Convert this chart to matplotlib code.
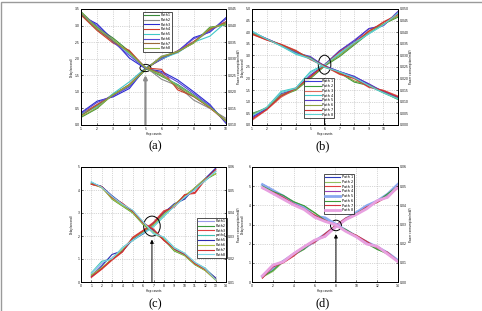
import matplotlib
matplotlib.use("Agg")
import matplotlib.pyplot as plt
from matplotlib.patches import Ellipse, Rectangle

# ---------------- data ----------------
# (a)
xa = [1, 2, 3, 4, 5, 6, 7, 8, 9, 10]
labels_a = ["Path1", "Path2", "Path3", "Path4", "Path5", "Path6", "Path7", "Path8"]
colors_a = ["#3a8a3a", "#8a8a8a", "#2a2ad0", "#d03a2a", "#40c8c8", "#5a4ad8", "#9a6a3a", "#8ab040"]
delay_a = [
    [0.23, 0.50, 0.93, 1.18, 1.66, 2.04, 2.21, 2.48, 2.95, 3.02],
    [0.30, 0.58, 0.90, 1.20, 1.68, 2.08, 2.20, 2.50, 2.85, 3.10],
    [0.37, 0.72, 0.85, 1.10, 1.71, 1.98, 2.22, 2.64, 2.80, 3.24],
    [0.32, 0.62, 0.92, 1.22, 1.70, 2.00, 2.24, 2.52, 2.88, 3.12],
    [0.33, 0.55, 0.95, 1.30, 1.72, 2.00, 2.18, 2.50, 2.68, 3.10],
    [0.35, 0.68, 0.88, 1.15, 1.70, 2.02, 2.23, 2.60, 2.82, 3.20],
    [0.28, 0.60, 0.90, 1.22, 1.69, 2.05, 2.20, 2.49, 2.90, 3.08],
    [0.25, 0.52, 0.92, 1.20, 1.67, 2.06, 2.22, 2.47, 2.93, 3.05],
]
power_a = [
    [0.0442, 0.0395, 0.0362, 0.0322, 0.0272, 0.0247, 0.0222, 0.0190, 0.0155, 0.0112],
    [0.0435, 0.0390, 0.0352, 0.0318, 0.0275, 0.0238, 0.0218, 0.0175, 0.0150, 0.0120],
    [0.0430, 0.0405, 0.0356, 0.0302, 0.0270, 0.0262, 0.0236, 0.0200, 0.0162, 0.0105],
    [0.0432, 0.0385, 0.0347, 0.0325, 0.0272, 0.0268, 0.0206, 0.0186, 0.0152, 0.0110],
    [0.0438, 0.0392, 0.0355, 0.0315, 0.0274, 0.0250, 0.0220, 0.0188, 0.0156, 0.0112],
    [0.0436, 0.0400, 0.0350, 0.0310, 0.0271, 0.0258, 0.0230, 0.0195, 0.0158, 0.0108],
    [0.0434, 0.0388, 0.0352, 0.0320, 0.0273, 0.0255, 0.0212, 0.0185, 0.0153, 0.0114],
    [0.0440, 0.0393, 0.0358, 0.0318, 0.0272, 0.0250, 0.0218, 0.0188, 0.0154, 0.0111],
]

# (b)
xb = [1, 2, 3, 4, 5, 6, 7, 8, 9, 10, 11]
labels_b = ["Path 1", "Path 2", "Path 3", "Path 4", "Path 5", "Path 6", "Path 7", "Path 8"]
colors_b = ["#3a3ad8", "#3a9a3a", "#e06a5a", "#40c8c8", "#5a3ac8", "#8aa040", "#d03030", "#60d0d0"]
delay_b = [
    [0.35, 0.70, 1.30, 1.55, 2.10, 2.60, 3.20, 3.60, 4.15, 4.30, 4.80],
    [0.50, 0.72, 1.25, 1.50, 2.00, 2.55, 2.95, 3.45, 3.95, 4.35, 4.65],
    [0.20, 0.65, 1.20, 1.55, 2.05, 2.60, 3.10, 3.50, 4.00, 4.45, 4.75],
    [0.45, 0.76, 1.45, 1.60, 2.30, 2.62, 3.05, 3.50, 3.95, 4.30, 4.85],
    [0.30, 0.70, 1.35, 1.55, 2.15, 2.62, 3.20, 3.65, 4.15, 4.28, 4.90],
    [0.45, 0.74, 1.30, 1.52, 2.05, 2.58, 3.00, 3.48, 4.05, 4.35, 4.70],
    [0.25, 0.66, 1.25, 1.58, 2.08, 2.60, 3.15, 3.55, 4.05, 4.42, 4.78],
    [0.40, 0.75, 1.40, 1.58, 2.25, 2.60, 3.10, 3.55, 3.92, 4.32, 4.82],
]
power_b = [
    [0.0400, 0.0372, 0.0345, 0.0315, 0.0290, 0.0255, 0.0230, 0.0210, 0.0175, 0.0145, 0.0120],
    [0.0395, 0.0370, 0.0342, 0.0310, 0.0292, 0.0250, 0.0225, 0.0185, 0.0170, 0.0140, 0.0110],
    [0.0390, 0.0368, 0.0348, 0.0322, 0.0282, 0.0252, 0.0218, 0.0200, 0.0162, 0.0150, 0.0125],
    [0.0405, 0.0370, 0.0340, 0.0305, 0.0285, 0.0248, 0.0228, 0.0205, 0.0168, 0.0138, 0.0112],
    [0.0398, 0.0372, 0.0344, 0.0312, 0.0295, 0.0252, 0.0230, 0.0208, 0.0178, 0.0142, 0.0118],
    [0.0396, 0.0370, 0.0345, 0.0318, 0.0288, 0.0250, 0.0226, 0.0190, 0.0172, 0.0140, 0.0114],
    [0.0392, 0.0366, 0.0347, 0.0320, 0.0284, 0.0254, 0.0220, 0.0202, 0.0165, 0.0148, 0.0122],
    [0.0403, 0.0371, 0.0341, 0.0308, 0.0286, 0.0249, 0.0229, 0.0204, 0.0170, 0.0139, 0.0113],
]

# (c)
xc = [1, 2, 3, 4, 5, 6, 7, 8, 9, 10, 11, 12, 13]
labels_c = ["Path1", "Path2", "Path3", "path4", "Path5", "Path6", "Path7", "Path8"]
colors_c = ["#9a9ae8", "#3a9a3a", "#e04040", "#40c0b0", "#2a2ab0", "#a8c040", "#d03030", "#80d8e8"]
delay_c = [
    [0.35, 0.80, 1.05, 1.45, 1.90, 2.20, 2.50, 2.95, 3.30, 3.70, 4.00, 4.50, 4.85],
    [0.30, 0.60, 1.00, 1.35, 1.85, 2.15, 2.45, 2.90, 3.35, 3.75, 4.05, 4.45, 4.70],
    [0.20, 0.55, 0.95, 1.30, 1.95, 2.25, 2.60, 3.10, 3.25, 3.80, 3.85, 4.45, 4.90],
    [0.40, 0.90, 1.00, 1.50, 1.80, 2.10, 2.40, 2.85, 3.30, 3.65, 4.05, 4.40, 4.80],
    [0.25, 0.70, 1.20, 1.35, 1.85, 2.10, 2.55, 3.00, 3.40, 3.60, 4.10, 4.50, 4.95],
    [0.30, 0.62, 1.00, 1.40, 1.90, 2.20, 2.50, 2.95, 3.35, 3.75, 4.10, 4.50, 4.70],
    [0.22, 0.58, 0.98, 1.32, 1.92, 2.22, 2.55, 3.05, 3.28, 3.78, 3.90, 4.45, 4.88],
    [0.38, 0.85, 1.02, 1.48, 1.82, 2.12, 2.42, 2.88, 3.28, 3.68, 4.02, 4.42, 4.82],
]
power_c = [
    [0.0530, 0.0515, 0.0470, 0.0440, 0.0405, 0.0360, 0.0320, 0.0290, 0.0240, 0.0220, 0.0180, 0.0155, 0.0115],
    [0.0525, 0.0515, 0.0460, 0.0430, 0.0400, 0.0350, 0.0315, 0.0285, 0.0235, 0.0215, 0.0175, 0.0150, 0.0110],
    [0.0525, 0.0512, 0.0465, 0.0435, 0.0410, 0.0355, 0.0330, 0.0280, 0.0245, 0.0220, 0.0178, 0.0152, 0.0112],
    [0.0535, 0.0510, 0.0470, 0.0435, 0.0410, 0.0360, 0.0310, 0.0295, 0.0250, 0.0225, 0.0185, 0.0160, 0.0115],
    [0.0530, 0.0515, 0.0475, 0.0440, 0.0405, 0.0355, 0.0325, 0.0285, 0.0242, 0.0218, 0.0182, 0.0155, 0.0118],
    [0.0528, 0.0510, 0.0462, 0.0432, 0.0402, 0.0352, 0.0318, 0.0288, 0.0238, 0.0215, 0.0177, 0.0150, 0.0108],
    [0.0525, 0.0515, 0.0468, 0.0442, 0.0408, 0.0358, 0.0328, 0.0282, 0.0245, 0.0222, 0.0180, 0.0155, 0.0112],
    [0.0535, 0.0512, 0.0472, 0.0438, 0.0412, 0.0362, 0.0312, 0.0295, 0.0248, 0.0225, 0.0185, 0.0158, 0.0110],
]

# (d)
xd = [1, 2, 3, 4, 5, 6, 7, 8, 9, 10, 11, 12, 13, 14]
labels_d = ["Path 1", "Path 2", "Path 3", "Path 4", "Path 5", "Path 6", "Path 7", "Path 8"]
colors_d = ["#2a3ab8", "#90c060", "#e04040", "#9a40b8", "#8aa8f0", "#3a9a3a", "#d03040", "#e8a0e0"]
widths_d = [0.8, 0.8, 0.8, 0.8, 2.0, 0.8, 0.8, 2.0]
delay_d = [
    [0.30, 0.70, 1.10, 1.45, 1.75, 2.10, 2.45, 2.90, 3.30, 3.60, 3.95, 4.20, 4.55, 5.05],
    [0.25, 0.55, 1.05, 1.40, 1.70, 2.15, 2.40, 2.88, 3.28, 3.55, 3.85, 4.20, 4.50, 4.95],
    [0.20, 0.80, 1.00, 1.35, 1.80, 2.05, 2.50, 2.92, 3.32, 3.55, 3.90, 4.15, 4.45, 4.90],
    [0.35, 0.90, 1.05, 1.50, 1.85, 2.20, 2.35, 2.85, 3.25, 3.50, 3.85, 4.25, 4.40, 5.00],
    [0.30, 0.75, 1.08, 1.45, 1.78, 2.12, 2.48, 2.90, 3.30, 3.62, 3.98, 4.22, 4.58, 5.10],
    [0.28, 0.60, 1.10, 1.42, 1.72, 2.18, 2.42, 2.88, 3.30, 3.58, 3.88, 4.18, 4.60, 5.00],
    [0.22, 0.78, 1.02, 1.38, 1.82, 2.08, 2.52, 2.94, 3.34, 3.54, 3.92, 4.16, 4.48, 4.92],
    [0.32, 0.88, 1.06, 1.48, 1.84, 2.18, 2.38, 2.86, 3.26, 3.52, 3.82, 4.24, 4.42, 4.98],
]
power_d = [
    [0.0510, 0.0480, 0.0445, 0.0415, 0.0390, 0.0345, 0.0330, 0.0300, 0.0270, 0.0240, 0.0205, 0.0185, 0.0150, 0.0110],
    [0.0505, 0.0475, 0.0450, 0.0420, 0.0395, 0.0360, 0.0325, 0.0298, 0.0272, 0.0238, 0.0205, 0.0172, 0.0145, 0.0108],
    [0.0490, 0.0470, 0.0440, 0.0410, 0.0385, 0.0350, 0.0320, 0.0295, 0.0268, 0.0242, 0.0210, 0.0180, 0.0155, 0.0112],
    [0.0495, 0.0465, 0.0435, 0.0405, 0.0380, 0.0340, 0.0318, 0.0300, 0.0265, 0.0235, 0.0200, 0.0188, 0.0148, 0.0105],
    [0.0508, 0.0478, 0.0448, 0.0412, 0.0388, 0.0342, 0.0335, 0.0302, 0.0270, 0.0238, 0.0208, 0.0182, 0.0152, 0.0112],
    [0.0500, 0.0472, 0.0452, 0.0418, 0.0398, 0.0362, 0.0322, 0.0296, 0.0274, 0.0240, 0.0200, 0.0170, 0.0148, 0.0110],
    [0.0488, 0.0468, 0.0442, 0.0408, 0.0382, 0.0348, 0.0322, 0.0297, 0.0266, 0.0244, 0.0212, 0.0178, 0.0155, 0.0108],
    [0.0492, 0.0462, 0.0432, 0.0402, 0.0378, 0.0338, 0.0316, 0.0299, 0.0264, 0.0236, 0.0198, 0.0186, 0.0146, 0.0106],
]

# ---------------- drawing ----------------
fig = plt.figure(figsize=(4.82, 3.11), dpi=100)
fig.patches.append(Rectangle((0.002, -0.01), 1.2, 1.004, transform=fig.transFigure,
                             fill=False, edgecolor="#9a9a9a", lw=1.0))

TFS = 2.2   # tick labels
LFS = 2.0   # axis labels
GFS = 2.5   # legend
W, H = 482.0, 311.0


def make_panel(rect, x, delay, power, colors, labels, widths, xlim, xticks,
               ylim, yticks, ylim2, yticks2, leg_anchor, ell, arrow_color, arrow_lw):
    ax = fig.add_axes(rect)
    ax2 = ax.twinx()
    for i in range(len(delay)):
        lw = widths[i] if widths else 0.8
        ax.plot(x, delay[i], color=colors[i], lw=lw, label=labels[i])
        ax2.plot(x, power[i], color=colors[i], lw=lw)
    ax.set_xlim(*xlim)
    ax.set_xticks(xticks)
    ax.set_ylim(*ylim)
    ax.set_yticks(yticks)
    ax2.set_ylim(*ylim2)
    ax2.set_yticks(yticks2)
    ax.grid(True, linestyle=":", color="#b0b0b0", lw=0.5)
    for a in (ax, ax2):
        a.tick_params(direction="in", labelsize=TFS, length=1.5, width=0.4, pad=1.2)
        for s in a.spines.values():
            s.set_linewidth(0.7)
            s.set_color("black")
    wpx = rect[2] * W
    ax.set_xlabel("Hop counts", fontsize=LFS, labelpad=1)
    ax.set_ylabel("Delay(second)", fontsize=LFS)
    ax.yaxis.set_label_coords(-7.0 / wpx, 0.5)
    ax2.set_ylabel("Power consumption(mW)", fontsize=LFS)
    ax2.yaxis.set_label_coords(1 + 10.8 / wpx, 0.5)
    leg = ax.legend(loc="upper left", bbox_to_anchor=leg_anchor, fontsize=GFS,
                    handlelength=4.5, borderaxespad=0, frameon=True, fancybox=False,
                    labelspacing=0.22, borderpad=0.35, handletextpad=0.4)
    leg.get_frame().set_edgecolor("black")
    leg.get_frame().set_linewidth(0.6)
    leg.set_zorder(10)
    cx, cy, ew, eh = ell
    ax.add_patch(Ellipse((cx, cy), ew, eh, fill=False, edgecolor="black", lw=0.7, zorder=5))
    ax.annotate("", xy=(cx, cy - eh / 2 - 0.03 * (ylim[1] - ylim[0])), xytext=(cx, ylim[0]),
                arrowprops=dict(arrowstyle="-|>", color=arrow_color, lw=arrow_lw,
                                mutation_scale=5, shrinkA=0, shrinkB=0), zorder=6)
    return ax


make_panel([81 / W, (H - 125) / H, 145 / W, 116 / H], xa, delay_a, power_a, colors_a, labels_a, None,
           (1, 10), xa, (0, 3.5), [0, 0.5, 1, 1.5, 2, 2.5, 3, 3.5],
           (0.01, 0.045), [0.01, 0.015, 0.02, 0.025, 0.03, 0.035, 0.04, 0.045],
           (0.425, 0.975), (5.0, 1.72, 0.68, 0.22), "#8c8c8c", 1.6)

make_panel([252 / W, (H - 125) / H, 146 / W, 116 / H], xb, delay_b, power_b, colors_b, labels_b, None,
           (1, 11), xb[:-1], (0, 5), [0, 0.5, 1, 1.5, 2, 2.5, 3, 3.5, 4, 4.5, 5],
           (0, 0.05), [0, 0.005, 0.01, 0.015, 0.02, 0.025, 0.03, 0.035, 0.04, 0.045, 0.05],
           (0.354, 0.405), (5.97, 2.6, 0.86, 0.82), "black", 0.7)

make_panel([81 / W, (H - 282) / H, 145 / W, 115 / H], xc, delay_c, power_c, colors_c, labels_c, None,
           (0, 14), list(range(0, 15)), (0, 5), [0, 1, 2, 3, 4, 5],
           (0.01, 0.06), [0.01, 0.02, 0.03, 0.04, 0.05, 0.06],
           (0.80, 0.557), (6.85, 2.43, 1.6, 0.87), "black", 0.7)

make_panel([252 / W, (H - 282) / H, 146 / W, 115 / H], xd, delay_d, power_d, colors_d, labels_d, widths_d,
           (0, 14), [0, 2, 4, 6, 8, 10, 12, 14], (0, 6), [0, 1, 2, 3, 4, 5, 6],
           (0, 0.06), [0, 0.01, 0.02, 0.03, 0.04, 0.05, 0.06],
           (0.49, 0.94), (8.05, 2.95, 1.05, 0.55), "black", 0.7)

for txt, px, py in [("(a)", 155, 146), ("(b)", 323, 146), ("(c)", 155, 304), ("(d)", 323, 303)]:
    fig.text(px / W, 1 - py / H, txt, ha="center", va="center",
             fontfamily="Liberation Serif", fontsize=9)

fig.savefig("out.png", dpi=100)
